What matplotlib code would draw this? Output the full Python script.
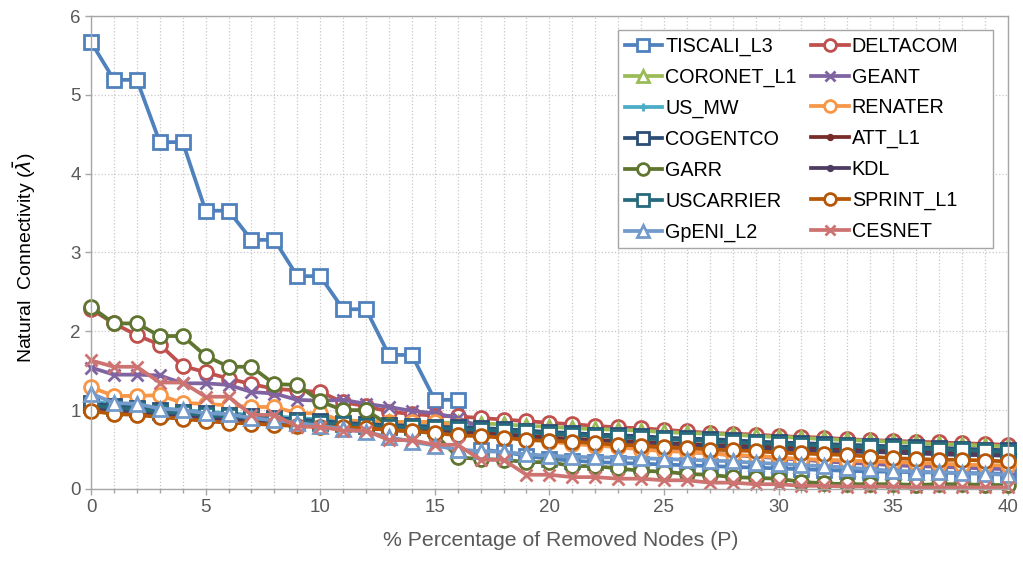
import matplotlib
matplotlib.use("Agg")
import matplotlib.pyplot as plt
from matplotlib.patches import Rectangle
from matplotlib.ticker import MultipleLocator

plt.rcParams['font.family'] = ['Liberation Sans', 'DejaVu Sans']

# % of removed nodes
p = list(range(41))

tiscali_l3 = [5.67, 5.19, 5.19, 4.40, 4.40, 3.53, 3.53, 3.16, 3.16, 2.70, 2.70,
              2.28, 2.28, 1.70, 1.70, 1.13, 1.13, 0.50, 0.47, 0.42, 0.38,
              0.36, 0.34, 0.33, 0.32, 0.31, 0.30, 0.29, 0.28, 0.27, 0.26,
              0.25, 0.24, 0.23, 0.22, 0.22, 0.21, 0.21, 0.20, 0.20, 0.19]
deltacom = [2.28, 2.10, 1.95, 1.83, 1.56, 1.48, 1.40, 1.33, 1.27, 1.25, 1.23,
            1.10, 1.05, 0.98, 0.95, 0.93, 0.92, 0.90, 0.88, 0.86, 0.84,
            0.82, 0.80, 0.78, 0.77, 0.75, 0.73, 0.71, 0.70, 0.69, 0.67,
            0.66, 0.65, 0.63, 0.62, 0.61, 0.60, 0.59, 0.58, 0.57, 0.56]
coronet_l1 = [1.10, 1.06, 1.04, 1.01, 0.99, 0.97, 0.95, 0.93, 0.91, 0.89, 0.88,
              0.87, 0.86, 0.85, 0.85, 0.84, 0.84, 0.83, 0.82, 0.80, 0.79,
              0.77, 0.76, 0.75, 0.74, 0.72, 0.71, 0.70, 0.69, 0.67, 0.66,
              0.65, 0.63, 0.62, 0.61, 0.60, 0.58, 0.57, 0.56, 0.55, 0.54]
geant = [1.54, 1.45, 1.45, 1.44, 1.34, 1.34, 1.32, 1.23, 1.21, 1.13, 1.12,
         1.13, 1.08, 1.04, 0.99, 0.96, 0.90, 0.78, 0.72, 0.68, 0.65,
         0.60, 0.57, 0.55, 0.52, 0.50, 0.47, 0.45, 0.43, 0.41, 0.39,
         0.37, 0.35, 0.33, 0.32, 0.30, 0.29, 0.28, 0.27, 0.26, 0.25]
us_mw = [1.12, 1.07, 1.05, 1.02, 1.00, 0.98, 0.96, 0.94, 0.92, 0.90, 0.88,
         0.86, 0.84, 0.82, 0.80, 0.79, 0.78, 0.76, 0.75, 0.73, 0.72,
         0.70, 0.69, 0.67, 0.66, 0.64, 0.63, 0.62, 0.60, 0.59, 0.58,
         0.57, 0.56, 0.55, 0.54, 0.53, 0.52, 0.51, 0.50, 0.49, 0.48]
renater = [1.29, 1.18, 1.18, 1.19, 1.09, 1.08, 1.06, 1.04, 1.04, 0.96, 0.96,
           0.86, 0.86, 0.85, 0.85, 0.85, 0.80, 0.72, 0.68, 0.64, 0.60,
           0.57, 0.55, 0.53, 0.50, 0.48, 0.47, 0.45, 0.43, 0.42, 0.40,
           0.38, 0.37, 0.36, 0.35, 0.34, 0.33, 0.32, 0.31, 0.30, 0.30]
cogentco = [1.09, 1.05, 1.03, 1.00, 0.98, 0.96, 0.94, 0.92, 0.90, 0.88, 0.86,
            0.84, 0.82, 0.81, 0.80, 0.79, 0.78, 0.77, 0.76, 0.74, 0.72,
            0.71, 0.69, 0.68, 0.67, 0.65, 0.64, 0.63, 0.62, 0.60, 0.59,
            0.58, 0.57, 0.56, 0.55, 0.54, 0.53, 0.52, 0.51, 0.50, 0.49]
att_l1 = [1.06, 1.02, 1.00, 0.97, 0.95, 0.93, 0.91, 0.89, 0.87, 0.85, 0.83,
          0.81, 0.79, 0.78, 0.76, 0.74, 0.72, 0.71, 0.69, 0.67, 0.65,
          0.64, 0.62, 0.61, 0.60, 0.58, 0.57, 0.56, 0.55, 0.54, 0.53,
          0.52, 0.51, 0.50, 0.49, 0.48, 0.47, 0.47, 0.46, 0.45, 0.45]
garr = [2.31, 2.10, 2.10, 1.94, 1.94, 1.69, 1.55, 1.55, 1.33, 1.32, 1.11,
        1.00, 1.00, 0.81, 0.75, 0.70, 0.40, 0.38, 0.37, 0.34, 0.34,
        0.29, 0.29, 0.26, 0.23, 0.22, 0.19, 0.18, 0.15, 0.14, 0.13,
        0.09, 0.07, 0.06, 0.06, 0.06, 0.05, 0.06, 0.06, 0.05, 0.05]
kdl = [1.03, 0.99, 0.97, 0.94, 0.92, 0.90, 0.88, 0.86, 0.84, 0.82, 0.80,
       0.78, 0.77, 0.75, 0.73, 0.72, 0.70, 0.68, 0.66, 0.64, 0.62,
       0.61, 0.60, 0.58, 0.57, 0.56, 0.55, 0.54, 0.53, 0.51, 0.50,
       0.49, 0.48, 0.47, 0.47, 0.46, 0.45, 0.44, 0.43, 0.43, 0.42]
uscarrier = [1.06, 1.03, 1.01, 0.98, 0.96, 0.94, 0.92, 0.90, 0.88, 0.86, 0.84,
             0.82, 0.80, 0.79, 0.78, 0.77, 0.76, 0.75, 0.74, 0.72, 0.70,
             0.69, 0.67, 0.66, 0.64, 0.63, 0.62, 0.61, 0.59, 0.58, 0.57,
             0.56, 0.55, 0.54, 0.53, 0.52, 0.51, 0.50, 0.49, 0.48, 0.47]
sprint_l1 = [0.99, 0.95, 0.94, 0.91, 0.89, 0.86, 0.84, 0.83, 0.81, 0.80, 0.79,
             0.78, 0.77, 0.75, 0.73, 0.71, 0.68, 0.67, 0.65, 0.62, 0.61,
             0.60, 0.58, 0.56, 0.55, 0.53, 0.52, 0.50, 0.49, 0.48, 0.46,
             0.45, 0.44, 0.43, 0.41, 0.39, 0.38, 0.37, 0.37, 0.36, 0.35]
gpeni_l2 = [1.21, 1.09, 1.08, 1.02, 1.00, 0.96, 0.95, 0.90, 0.87, 0.84, 0.80,
            0.76, 0.72, 0.66, 0.60, 0.55, 0.50, 0.48, 0.47, 0.44, 0.42,
            0.41, 0.40, 0.40, 0.39, 0.38, 0.37, 0.36, 0.35, 0.33, 0.32,
            0.30, 0.29, 0.27, 0.25, 0.23, 0.22, 0.21, 0.20, 0.19, 0.18]
cesnet = [1.63, 1.55, 1.55, 1.35, 1.35, 1.17, 1.17, 0.94, 0.94, 0.79, 0.79,
          0.74, 0.74, 0.62, 0.62, 0.56, 0.56, 0.37, 0.37, 0.18, 0.18,
          0.15, 0.15, 0.13, 0.13, 0.11, 0.11, 0.08, 0.08, 0.06, 0.06,
          0.04, 0.04, 0.03, 0.03, 0.03, 0.02, 0.02, 0.02, 0.02, 0.02]

names = ['TISCALI_L3', 'DELTACOM', 'CORONET_L1', 'GEANT', 'US_MW', 'RENATER',
         'COGENTCO', 'ATT_L1', 'GARR', 'KDL', 'USCARRIER', 'SPRINT_L1',
         'GpENI_L2', 'CESNET']
series = [tiscali_l3, deltacom, coronet_l1, geant, us_mw, renater, cogentco,
          att_l1, garr, kdl, uscarrier, sprint_l1, gpeni_l2, cesnet]
colors = ['#4F81BD', '#C0504D', '#9BBB59', '#8064A2', '#4BACC6', '#F79646',
          '#2C4D75', '#772C2A', '#5F7530', '#4D3B62', '#276A7C', '#B65708',
          '#729ACA', '#CD7371']
markers = ['s', 'o', '^', 'x', '+', 'o', 's', 'o', 'o', 'o', 's', 'o', '^', 'x']

fig = plt.figure(figsize=(10.23, 5.62), dpi=100)
ax = fig.add_axes([0.089, 0.130, 0.896, 0.8415])

handles = {}
for name, vals, c, m in zip(names, series, colors, markers):
    if m in ('x', '+'):
        kw = dict(markersize=9 if m == 'x' else 7, markeredgewidth=2.0)
    elif name in ('ATT_L1', 'KDL'):
        kw = dict(markersize=5, markerfacecolor=c, markeredgewidth=1.0)
    else:
        kw = dict(markersize=10, markerfacecolor='white', markeredgewidth=2.0)
    line, = ax.plot(p, vals, color=c, marker=m, linewidth=2.7,
                    markeredgecolor=c, clip_on=False, label=name, **kw)
    handles[name] = line

ax.set_xlim(0, 40)
ax.set_ylim(0, 6)
ax.xaxis.set_major_locator(MultipleLocator(5))
ax.xaxis.set_minor_locator(MultipleLocator(1))
ax.yaxis.set_major_locator(MultipleLocator(1))
ax.grid(which='both', axis='x', linestyle=':', color='#C8C8C8', linewidth=0.9)
ax.grid(which='major', axis='y', linestyle=':', color='#C8C8C8', linewidth=0.9)
ax.set_axisbelow(True)

for s in ax.spines.values():
    s.set_color('#A6A6A6')
    s.set_linewidth(1.0)
ax.tick_params(which='both', colors='#A6A6A6', labelcolor='#595959',
               labelsize=13.5, length=4, width=1.0)
ax.tick_params(which='minor', length=3)

ax.set_xlabel('% Percentage of Removed Nodes (P)', fontsize=15.3, color='#595959')
ax.xaxis.set_label_coords(0.512, -0.088)
ax.set_ylabel(r'Natural  Connectivity ($\bar{\lambda}$)', fontsize=14, color='black')
ax.yaxis.set_label_coords(-0.058, 0.49)

# legend frame drawn separately so the two columns keep equal width like the source
ax.add_patch(Rectangle((0.5747, 0.5095), 0.4089, 0.4609, transform=ax.transAxes,
                       facecolor='white', edgecolor='#A6A6A6', linewidth=1.0,
                       zorder=4.5, clip_on=False))
order = ['TISCALI_L3', 'CORONET_L1', 'US_MW', 'COGENTCO', 'GARR', 'USCARRIER',
         'GpENI_L2', 'DELTACOM', 'GEANT', 'RENATER', 'ATT_L1', 'KDL',
         'SPRINT_L1', 'CESNET']
leg = ax.legend([handles[n] for n in order], order, ncol=2, loc='upper left',
                bbox_to_anchor=(0.5725, 0.975), fontsize=14.2, frameon=False,
                handlelength=1.9, handletextpad=0.15, columnspacing=0.75,
                labelspacing=0.6, borderpad=0.45, borderaxespad=0.0,
                markerscale=0.85)

fig.savefig('out.png', dpi=100)
